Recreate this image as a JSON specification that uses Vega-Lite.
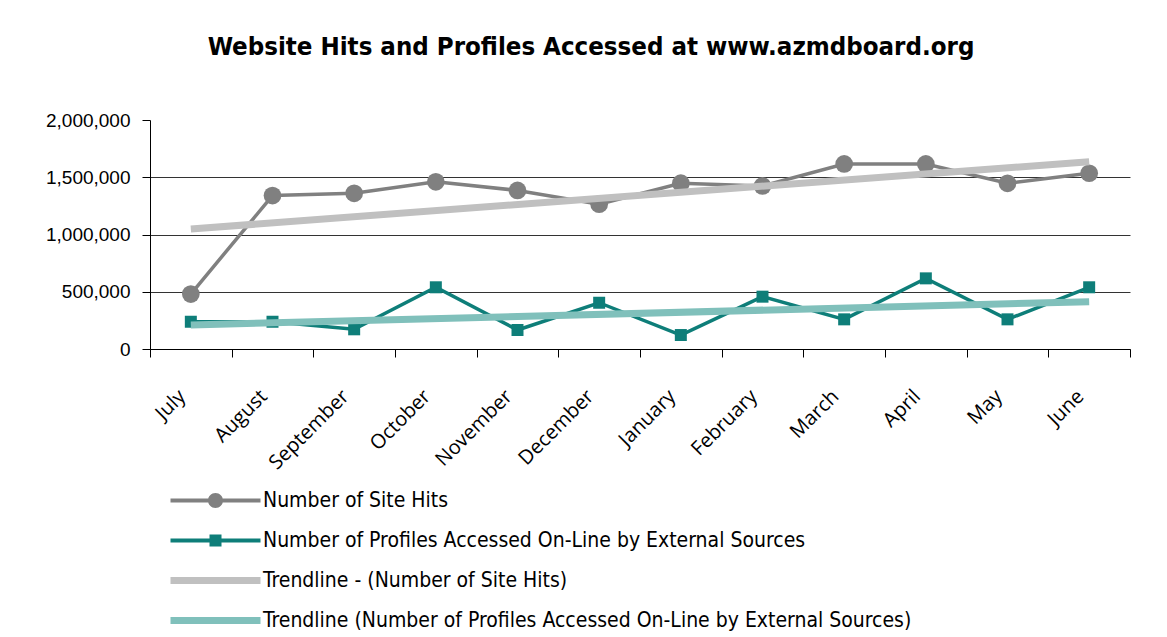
{
  "$schema": "https://vega.github.io/schema/vega-lite/v6.json",
  "width": 980,
  "height": 229,
  "autosize": {"type": "none"},
  "padding": {"left": 150, "top": 120, "right": 37, "bottom": 288},
  "background": "white",
  "config": {"view": {"stroke": null}},
  "title": {
    "text": "Website Hits and Profiles Accessed at www.azmdboard.org",
    "font": "DejaVu Sans Condensed",
    "fontSize": 25.6,
    "fontWeight": "bold",
    "color": "black",
    "offset": 50,
    "dx": -49
  },
  "data": {
    "values": [
      {"month": "July", "series": "Number of Site Hits", "value": 480000},
      {"month": "August", "series": "Number of Site Hits", "value": 1340000},
      {"month": "September", "series": "Number of Site Hits", "value": 1360000},
      {"month": "October", "series": "Number of Site Hits", "value": 1460000},
      {"month": "November", "series": "Number of Site Hits", "value": 1385000},
      {"month": "December", "series": "Number of Site Hits", "value": 1265000},
      {"month": "January", "series": "Number of Site Hits", "value": 1448000},
      {"month": "February", "series": "Number of Site Hits", "value": 1424000},
      {"month": "March", "series": "Number of Site Hits", "value": 1616000},
      {"month": "April", "series": "Number of Site Hits", "value": 1616000},
      {"month": "May", "series": "Number of Site Hits", "value": 1447000},
      {"month": "June", "series": "Number of Site Hits", "value": 1535000},
      {"month": "July", "series": "Number of Profiles Accessed On-Line by External Sources", "value": 238000},
      {"month": "August", "series": "Number of Profiles Accessed On-Line by External Sources", "value": 238000},
      {"month": "September", "series": "Number of Profiles Accessed On-Line by External Sources", "value": 172000},
      {"month": "October", "series": "Number of Profiles Accessed On-Line by External Sources", "value": 539000},
      {"month": "November", "series": "Number of Profiles Accessed On-Line by External Sources", "value": 166000},
      {"month": "December", "series": "Number of Profiles Accessed On-Line by External Sources", "value": 404000},
      {"month": "January", "series": "Number of Profiles Accessed On-Line by External Sources", "value": 122000},
      {"month": "February", "series": "Number of Profiles Accessed On-Line by External Sources", "value": 457000},
      {"month": "March", "series": "Number of Profiles Accessed On-Line by External Sources", "value": 259000},
      {"month": "April", "series": "Number of Profiles Accessed On-Line by External Sources", "value": 617000},
      {"month": "May", "series": "Number of Profiles Accessed On-Line by External Sources", "value": 259000},
      {"month": "June", "series": "Number of Profiles Accessed On-Line by External Sources", "value": 539000},
      {"month": "July", "series": "Trendline - (Number of Site Hits)", "value": 1048000},
      {"month": "June", "series": "Trendline - (Number of Site Hits)", "value": 1636000},
      {"month": "July", "series": "Trendline (Number of Profiles Accessed On-Line by External Sources)", "value": 210000},
      {"month": "June", "series": "Trendline (Number of Profiles Accessed On-Line by External Sources)", "value": 413000}
    ]
  },
  "encoding": {
    "x": {
      "field": "month",
      "type": "ordinal",
      "sort": ["July", "August", "September", "October", "November", "December", "January", "February", "March", "April", "May", "June"],
      "scale": {"type": "band", "paddingInner": 0, "paddingOuter": 0},
      "axis": {
        "title": null,
        "labelAngle": -45,
        "labelAlign": "right",
        "labelBaseline": "middle",
        "labelPadding": 36,
        "labelOffset": -9,
        "labelFont": "Open Sans",
        "labelFontSize": 20,
        "labelColor": "black",
        "tickBand": "extent",
        "tickSize": 8,
        "tickColor": "black",
        "domainColor": "black",
        "grid": false
      }
    },
    "y": {
      "field": "value",
      "type": "quantitative",
      "scale": {"domain": [0, 2000000], "nice": false},
      "axis": {
        "title": null,
        "values": [0, 500000, 1000000, 1500000, 2000000],
        "format": ",d",
        "labelFont": "Liberation Sans",
        "labelFontSize": 19,
        "labelColor": "black",
        "labelPadding": 12,
        "tickSize": 8,
        "tickColor": "black",
        "domainColor": "black",
        "grid": true,
        "gridColor": {"condition": {"test": "datum.value >= 2000000", "value": "transparent"}, "value": "#333333"},
        "gridOpacity": 1
      }
    }
  },
  "layer": [
    {
      "transform": [{"filter": "datum.series === 'Number of Site Hits' || datum.series === 'Number of Profiles Accessed On-Line by External Sources'"}],
      "mark": {"type": "line", "strokeWidth": 3.5},
      "encoding": {
        "color": {
          "field": "series",
          "type": "nominal",
          "scale": {
            "domain": ["Number of Site Hits", "Number of Profiles Accessed On-Line by External Sources", "Trendline - (Number of Site Hits)", "Trendline (Number of Profiles Accessed On-Line by External Sources)"],
            "range": ["#808080", "#0e7e79", "#c0c0c0", "#80c0bb"]
          },
          "legend": {
            "title": null,
            "orient": "none",
            "legendX": 55,
            "legendY": 370,
            "direction": "vertical",
            "padding": 0,
            "symbolSize": 400,
            "labelFont": "DejaVu Sans Condensed",
            "labelFontSize": 21,
            "labelColor": "black",
            "labelOffset": 37,
            "labelLimit": 900,
            "rowPadding": 18,
            "encode": {
              "symbols": {
                "update": {
                  "shape": {"signal": "datum.value === 'Number of Site Hits' ? 'M-4.5,-0.2H4.5V0.2H-4.5Z M-0.75,0A0.75,0.75 0 1,1 0.75,0A0.75,0.75 0 1,1 -0.75,0Z' : datum.value === 'Number of Profiles Accessed On-Line by External Sources' ? 'M-4.5,-0.2H4.5V0.2H-4.5Z M-0.6,-0.6H0.6V0.6H-0.6Z' : 'M-4.5,-0.35H4.5V0.35H-4.5Z'"},
                  "fill": {"scale": "color", "field": "value"},
                  "stroke": {"value": "transparent"},
                  "strokeWidth": {"value": 0},
                  "opacity": {"value": 1}
                }
              }
            }
          }
        }
      }
    },
    {
      "transform": [{"filter": "datum.series === 'Number of Site Hits' || datum.series === 'Number of Profiles Accessed On-Line by External Sources'"}],
      "mark": {"type": "point", "filled": true, "opacity": 1},
      "encoding": {
        "color": {"field": "series", "type": "nominal", "legend": null},
        "shape": {
          "field": "series",
          "type": "nominal",
          "scale": {"domain": ["Number of Site Hits", "Number of Profiles Accessed On-Line by External Sources"], "range": ["circle", "square"]},
          "legend": null
        },
        "size": {
          "field": "series",
          "type": "nominal",
          "scale": {"domain": ["Number of Site Hits", "Number of Profiles Accessed On-Line by External Sources"], "range": [314, 144]},
          "legend": null
        }
      }
    },
    {
      "transform": [{"filter": "datum.series === 'Trendline - (Number of Site Hits)' || datum.series === 'Trendline (Number of Profiles Accessed On-Line by External Sources)'"}],
      "mark": {"type": "line", "strokeWidth": 7},
      "encoding": {
        "color": {"field": "series", "type": "nominal", "legend": null}
      }
    }
  ]
}
